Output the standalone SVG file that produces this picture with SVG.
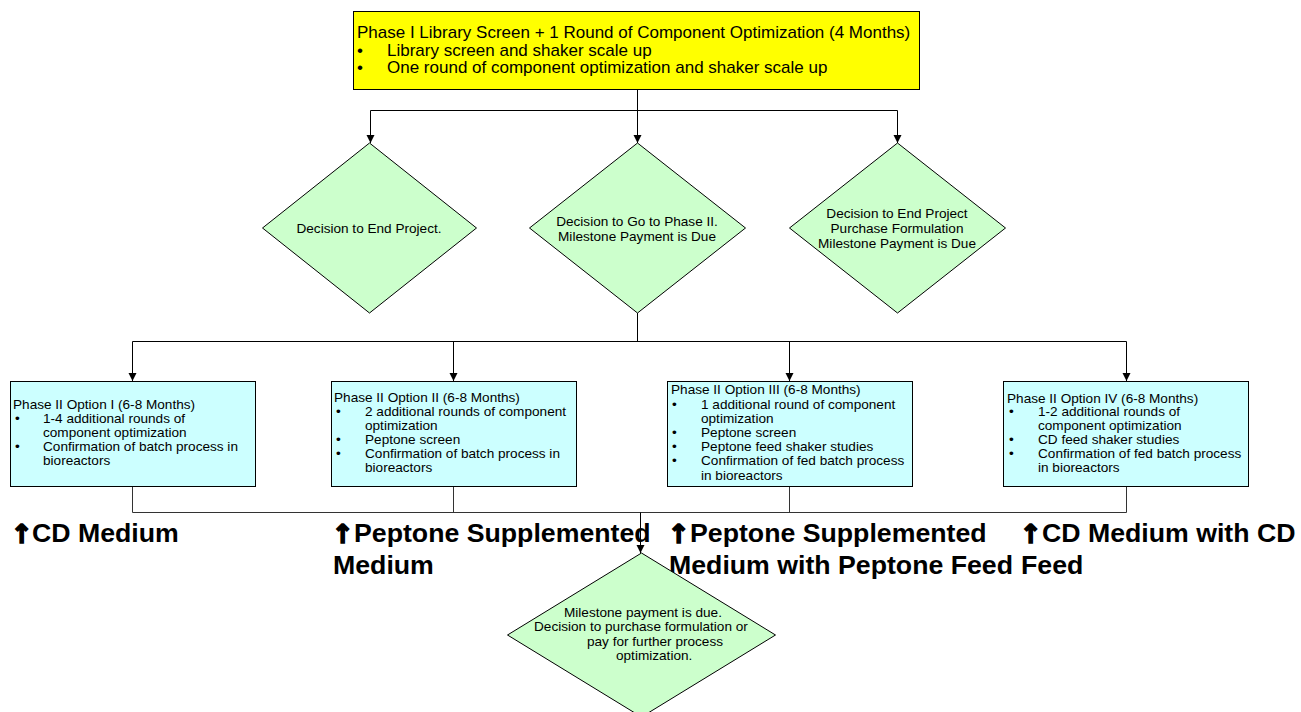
<svg xmlns="http://www.w3.org/2000/svg" width="1301" height="712" viewBox="0 0 1301 712">
<style>
.t{font-family:"Liberation Sans",Arial,sans-serif;font-size:13.6px;fill:#000}
.tc{font-family:"Liberation Sans",Arial,sans-serif;font-size:13.6px;fill:#000;text-anchor:middle}
.top{font-family:"Liberation Sans",Arial,sans-serif;font-size:17px;fill:#000}
.big{font-family:"Liberation Sans",Arial,sans-serif;font-size:26.7px;font-weight:bold;fill:#000}
.arr{font-family:"DejaVu Sans",sans-serif;font-size:26px;font-weight:bold;fill:#000;stroke:#000;stroke-width:1.6}
.box{fill:#CCFFFF;stroke:#000;stroke-width:1}
.dia{fill:#CCFFCC;stroke:#000;stroke-width:1}
.c{fill:none;stroke:#000;stroke-width:1}
.cg{fill:none;stroke:#333;stroke-width:1}
</style>
<defs>
<marker id="ah" markerUnits="userSpaceOnUse" markerWidth="9" markerHeight="9" refX="8" refY="4.5" orient="auto">
<path d="M0,0.5 L8,4.5 L0,8.5 z" fill="#000"/>
</marker>
</defs>

<g id="connectors">
<path class="c" d="M637.5,89 V110.5"/>
<path class="c" d="M370.5,110.5 H897.5"/>
<path class="c" d="M370.5,110.5 V143" marker-end="url(#ah)"/>
<path class="c" d="M637.5,110.5 V143" marker-end="url(#ah)"/>
<path class="c" d="M897.5,110.5 V143" marker-end="url(#ah)"/>
<path class="c" d="M637.5,313 V341.5"/>
<path class="c" d="M132.5,341.5 H1126.5"/>
<path class="c" d="M132.5,341.5 V381" marker-end="url(#ah)"/>
<path class="c" d="M453.5,341.5 V381" marker-end="url(#ah)"/>
<path class="c" d="M789.5,341.5 V381" marker-end="url(#ah)"/>
<path class="c" d="M1126.5,341.5 V381" marker-end="url(#ah)"/>
<path class="cg" d="M132.5,486 V512.5 H1126.5 V486"/>
<path class="cg" d="M453.5,486 V512.5"/>
<path class="cg" d="M789.5,486 V512.5"/>
<path class="c" d="M640.5,512.5 V553" marker-end="url(#ah)"/>
</g>

<g id="phase1">
<rect x="353.5" y="11.5" width="566" height="78" fill="#FFFF00" stroke="#000"/>
<text class="top" x="357" y="38">Phase I Library Screen + 1 Round of Component Optimization (4 Months)</text>
<text class="top" x="357" y="56">•</text>
<text class="top" x="387" y="56">Library screen and shaker scale up</text>
<text class="top" x="357" y="73">•</text>
<text class="top" x="387" y="73">One round of component optimization and shaker scale up</text>
</g>

<g id="decision-end">
<polygon class="dia" points="369.5,143 476.5,228 369.5,313 262.5,228"/>
<text class="tc" x="369" y="232.5">Decision to End Project.</text>
</g>

<g id="decision-go">
<polygon class="dia" points="637.5,143 745.5,228 637.5,313 529.5,228"/>
<text class="tc" x="637" y="225.5">Decision to Go to Phase II.</text>
<text class="tc" x="637" y="240.5">Milestone Payment is Due</text>
</g>

<g id="decision-purchase">
<polygon class="dia" points="897.5,143 1005.5,228 897.5,313 789.5,228"/>
<text class="tc" x="897" y="217.5">Decision to End Project</text>
<text class="tc" x="897" y="232.5">Purchase Formulation</text>
<text class="tc" x="897" y="247.5">Milestone Payment is Due</text>
</g>

<g id="option1">
<rect class="box" x="10.5" y="381.5" width="245" height="105"/>
<text class="t" x="13" y="408.5">Phase II Option I (6-8 Months)</text>
<text class="t" x="15" y="422.5">•</text>
<text class="t" x="43" y="422.5">1-4 additional rounds of</text>
<text class="t" x="43" y="436.5">component optimization</text>
<text class="t" x="15" y="450.5">•</text>
<text class="t" x="43" y="450.5">Confirmation of batch process in</text>
<text class="t" x="43" y="465">bioreactors</text>
</g>

<g id="option2">
<rect class="box" x="331.5" y="381.5" width="245" height="105"/>
<text class="t" x="334" y="401.5">Phase II Option II (6-8 Months)</text>
<text class="t" x="336" y="415.5">•</text>
<text class="t" x="365" y="415.5">2 additional rounds of component</text>
<text class="t" x="365" y="429.5">optimization</text>
<text class="t" x="336" y="443.5">•</text>
<text class="t" x="365" y="443.5">Peptone screen</text>
<text class="t" x="336" y="457.5">•</text>
<text class="t" x="365" y="457.5">Confirmation of batch process in</text>
<text class="t" x="365" y="471.5">bioreactors</text>
</g>

<g id="option3">
<rect class="box" x="667.5" y="381.5" width="245" height="105"/>
<text class="t" x="671" y="393.5">Phase II Option III (6-8 Months)</text>
<text class="t" x="672" y="408.5">•</text>
<text class="t" x="701" y="408.5">1 additional round of component</text>
<text class="t" x="701" y="422.5">optimization</text>
<text class="t" x="672" y="436.5">•</text>
<text class="t" x="701" y="436.5">Peptone screen</text>
<text class="t" x="672" y="450.5">•</text>
<text class="t" x="701" y="450.5">Peptone feed shaker studies</text>
<text class="t" x="672" y="465">•</text>
<text class="t" x="701" y="465">Confirmation of fed batch process</text>
<text class="t" x="701" y="479.5">in bioreactors</text>
</g>

<g id="option4">
<rect class="box" x="1003.5" y="381.5" width="245" height="105"/>
<text class="t" x="1007" y="402.5">Phase II Option IV (6-8 Months)</text>
<text class="t" x="1009" y="415.5">•</text>
<text class="t" x="1038" y="415.5">1-2 additional rounds of</text>
<text class="t" x="1038" y="429.5">component optimization</text>
<text class="t" x="1009" y="444">•</text>
<text class="t" x="1038" y="444">CD feed shaker studies</text>
<text class="t" x="1009" y="457.5">•</text>
<text class="t" x="1038" y="457.5">Confirmation of fed batch process</text>
<text class="t" x="1038" y="471.5">in bioreactors</text>
</g>

<g id="label-cd">
<text class="arr" x="11" y="543">↑</text>
<text class="big" x="32" y="542">CD Medium</text>
</g>
<g id="label-peptone">
<text class="arr" x="332" y="543">↑</text>
<text class="big" x="354" y="542">Peptone Supplemented</text>
<text class="big" x="333" y="574">Medium</text>
</g>
<g id="label-peptone-feed">
<text class="arr" x="668" y="543">↑</text>
<text class="big" x="690" y="542">Peptone Supplemented</text>
<text class="big" x="669" y="574">Medium with Peptone Feed</text>
</g>
<g id="label-cd-feed">
<text class="arr" x="1020" y="543">↑</text>
<text class="big" x="1042" y="542">CD Medium with CD</text>
<text class="big" x="1021" y="574">Feed</text>
</g>

<g id="decision-milestone">
<polygon class="dia" points="641.5,553 775.5,635 641.5,717 507.5,635"/>
<text class="t" x="564" y="616.5">Milestone payment is due.</text>
<text class="t" x="534" y="631">Decision to purchase formulation or</text>
<text class="t" x="587" y="645.5">pay for further process</text>
<text class="t" x="616" y="660">optimization.</text>
</g>
</svg>
